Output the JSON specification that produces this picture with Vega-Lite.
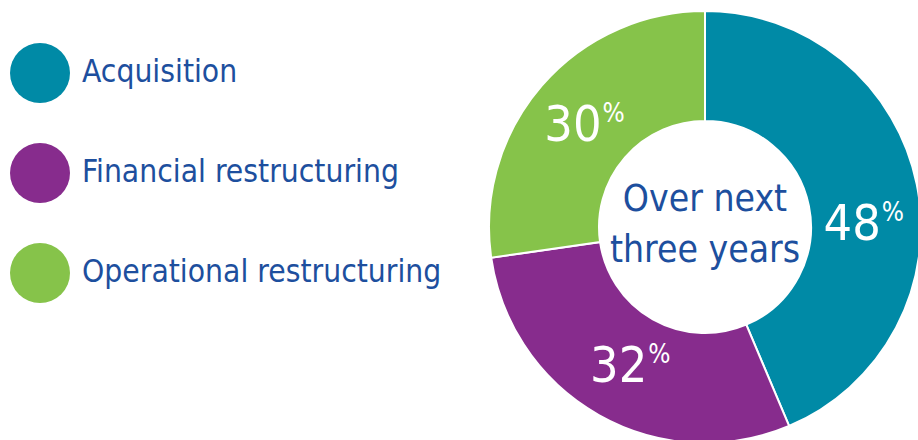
{
  "$schema": "https://vega.github.io/schema/vega-lite/v6.json",
  "width": 432,
  "height": 432,
  "autosize": {"type": "none"},
  "padding": {"left": 489, "top": 11, "right": 0, "bottom": 0},
  "background": "white",
  "config": {"view": {"stroke": null}},
  "data": {"values": [
    {"category": "Acquisition", "value": 48, "num": "48"},
    {"category": "Financial restructuring", "value": 32, "num": "32"},
    {"category": "Operational restructuring", "value": 30, "num": "30"}
  ]},
  "layer": [
    {
      "mark": {"type": "arc", "outerRadius": 216, "innerRadius": 106, "stroke": "white", "strokeWidth": 2},
      "encoding": {
        "theta": {"field": "value", "type": "quantitative", "stack": true},
        "order": {"field": "category", "sort": "ascending"},
        "color": {
          "field": "category", "type": "nominal",
          "scale": {"domain": ["Acquisition", "Financial restructuring", "Operational restructuring"], "range": ["#008AA6", "#872C8D", "#86C34A"]},
          "legend": {
            "orient": "none", "legendX": -479, "legendY": 32,
            "title": null, "symbolType": "circle", "symbolSize": 3600,
            "symbolStrokeWidth": 0, "symbolOpacity": 1,
            "labelFont": "DejaVu Sans Condensed, Liberation Sans, sans-serif", "labelFontSize": 31.5, "labelColor": "#1D4F9E",
            "labelOffset": 12, "rowPadding": 40, "labelLimit": 500
          }
        }
      }
    },
    {
      "mark": {"type": "text", "radius": 158, "font": "DejaVu Sans Condensed, Liberation Sans, sans-serif", "fontSize": 50, "color": "white", "align": "right", "baseline": "middle", "dx": {"expr": "datum.category === 'Acquisition' ? 21 : datum.category === 'Financial restructuring' ? 20 : 16"}, "dy": {"expr": "datum.category === 'Acquisition' ? 29 : 2"}},
      "encoding": {
        "theta": {"field": "value", "type": "quantitative", "stack": true},
        "order": {"field": "category", "sort": "ascending"},
        "text": {"field": "num", "type": "nominal"}
      }
    },
    {
      "mark": {"type": "text", "radius": 158, "font": "DejaVu Sans Condensed, Liberation Sans, sans-serif", "fontSize": 26, "color": "white", "align": "left", "baseline": "middle", "dx": {"expr": "datum.category === 'Acquisition' ? 22 : datum.category === 'Financial restructuring' ? 21 : 17"}, "dy": {"expr": "datum.category === 'Acquisition' ? 17 : -10"}},
      "encoding": {
        "theta": {"field": "value", "type": "quantitative", "stack": true},
        "order": {"field": "category", "sort": "ascending"},
        "text": {"value": "%"}
      }
    },
    {
      "data": {"values": [{"center": ["Over next", "three years"]}]},
      "mark": {"type": "text", "font": "DejaVu Sans Condensed, Liberation Sans, sans-serif", "fontSize": 37, "color": "#1D4F9E", "align": "center", "baseline": "middle", "lineHeight": 51, "dy": -27},
      "encoding": {
        "text": {"field": "center", "type": "nominal"}
      }
    }
  ]
}
